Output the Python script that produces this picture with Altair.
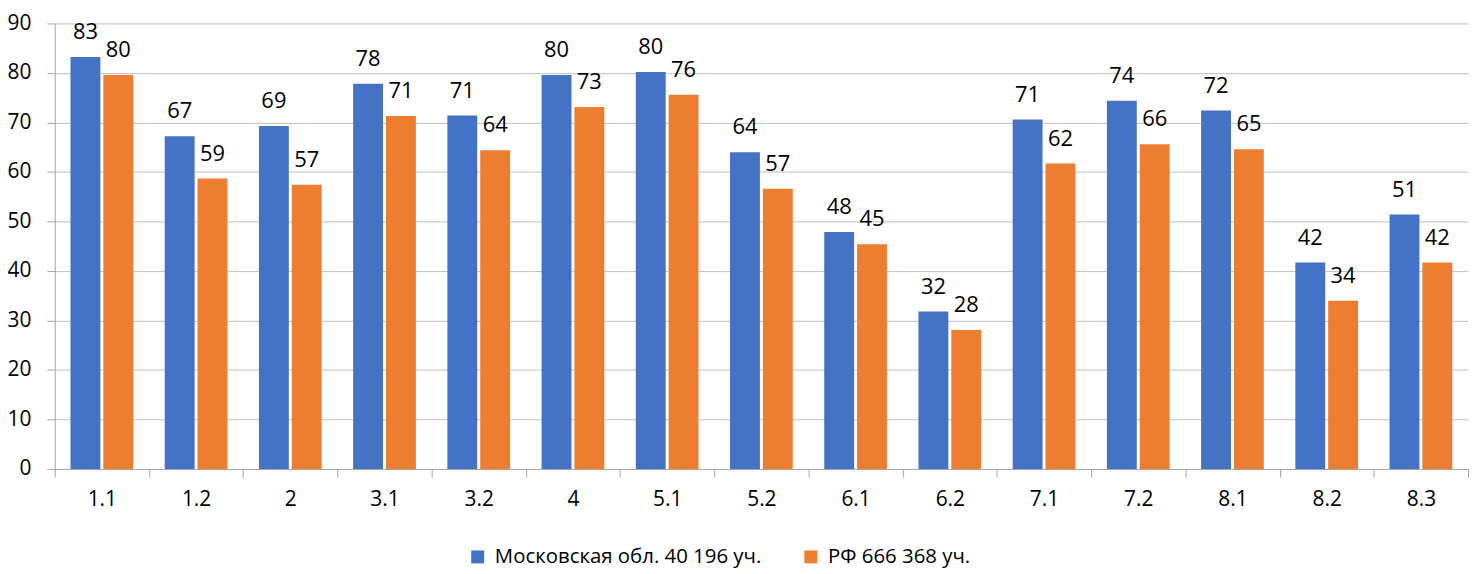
import altair as alt
import pandas as pd

cats = ["1.1", "1.2", "2", "3.1", "3.2", "4", "5.1", "5.2", "6.1", "6.2", "7.1", "7.2", "8.1", "8.2", "8.3"]
series = ["Московская обл. 40 196 уч.", "РФ 666 368 уч."]
moscow = [83.2, 67.2, 69.3, 77.8, 71.4, 79.6, 80.2, 64.0, 47.9, 31.8, 70.6, 74.4, 72.4, 41.7, 51.4]
rf = [79.6, 58.7, 57.4, 71.3, 64.4, 73.1, 75.6, 56.6, 45.4, 28.1, 61.7, 65.6, 64.6, 34.0, 41.7]
colors = ["#4472C4", "#ED7D31"]
y_ticks = list(range(0, 91, 10))

rows = []
for c, m, r in zip(cats, moscow, rf):
    rows.append({"cat": c, "series": series[0], "value": m})
    rows.append({"cat": c, "series": series[1], "value": r})
df = pd.DataFrame(rows)

FONT = "Open Sans"
FS = 21

base = alt.Chart(df).encode(
    x=alt.X(
        "cat:N",
        sort=cats,
        title=None,
        scale=alt.Scale(paddingInner=0, paddingOuter=0),
        axis=alt.Axis(
            labelAngle=0,
            tickBand="extent",
            tickSize=8,
            tickColor="#A6A6A6",
            domainColor="#A6A6A6",
            labelPadding=12,
            labelFont=FONT,
            labelFontSize=FS,
            labelColor="#000000",
            grid=False,
        ),
    ),
    xOffset=alt.XOffset(
        "series:N",
        sort=series,
        scale=alt.Scale(paddingInner=0.09, paddingOuter=0.48),
    ),
    y=alt.Y(
        "value:Q",
        title=None,
        scale=alt.Scale(domain=[0, 90], nice=False),
        axis=alt.Axis(
            values=y_ticks,
            tickSize=8,
            tickColor="#A6A6A6",
            domainColor="#A6A6A6",
            gridColor="#BFBFBF",
            labelPadding=16,
            labelFont=FONT,
            labelFontSize=FS,
            labelColor="#000000",
        ),
    ),
)

bars = base.mark_bar().encode(
    color=alt.Color(
        "series:N",
        sort=series,
        scale=alt.Scale(domain=series, range=colors),
        legend=alt.Legend(
            title=None,
            orient="none",
            legendX=415,
            legendY=526,
            direction="horizontal",
            symbolType="square",
            symbolSize=169,
            symbolStrokeWidth=0,
            labelFont=FONT,
            labelFontSize=20.5,
            labelColor="#000000",
            labelOffset=7,
            labelLimit=0,
            columnPadding=39,
        ),
    )
)

labels = base.mark_text(
    baseline="alphabetic", dy=-18, font=FONT, fontSize=22, color="#000000"
).encode(text=alt.Text("value:Q", format=".0f"))

chart = (
    alt.layer(bars, labels)
    .properties(
        width=1421,
        height=448,
        autosize=alt.AutoSizeParams(type="none"),
        padding={"left": 47, "top": 14, "right": 2, "bottom": 100},
    )
    .configure_view(stroke=None)
)

chart.save("out.html", embed_options={"renderer": "svg", "actions": False})
